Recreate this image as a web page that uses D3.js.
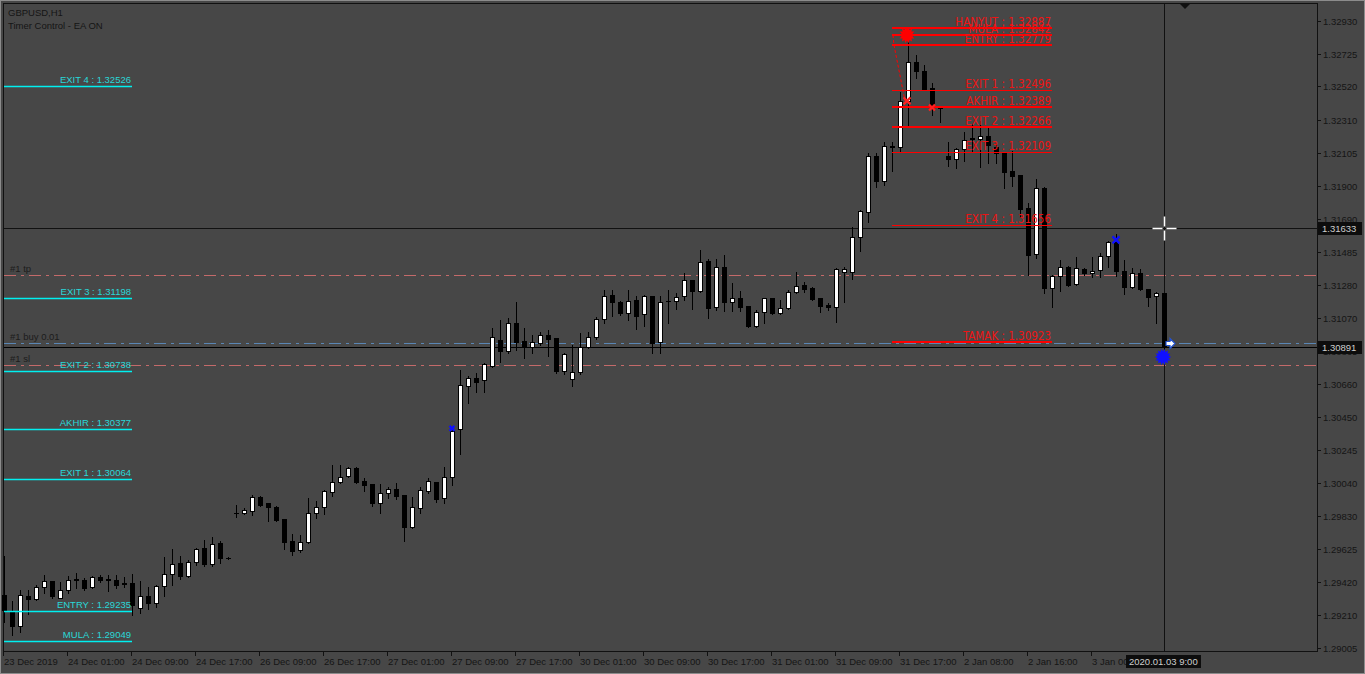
<!DOCTYPE html>
<html>
<head>
<meta charset="utf-8">
<script src="https://cdn.jsdelivr.net/npm/d3@7/dist/d3.min.js"></script>
<style>
  html, body { margin: 0; padding: 0; background: #474747; }
  svg { display: block; }
  text { font-family: "Liberation Sans", Arial, sans-serif; }
</style>
</head>
<body>
<svg id="chart"></svg>
<script>
const width = 1365;
const height = 674;

// GBPUSD H1 bars, 23 Dec 2019 .. 3 Jan 2020 09:00
const open = [
  1.29336,1.29230,1.29142,1.29330,1.29311,1.29386,1.29424,1.29317,1.29368,1.29434,
  1.29430,1.29386,1.29449,1.29436,1.29430,1.29411,1.29411,1.29255,1.29330,1.29286,
  1.29393,1.29468,1.29537,1.29455,1.29543,1.29631,1.29530,1.29662,1.29568,1.29850,
  1.29850,1.29862,1.29950,1.29912,1.29887,1.29812,1.29674,1.29618,1.29668,1.29850,
  1.29887,1.29981,1.30044,1.30081,1.30131,1.30050,1.30031,1.29912,1.29975,1.30000,
  1.29962,1.29762,1.29881,1.29987,1.30044,1.29944,1.30075,1.30375,1.30645,1.30695,
  1.30682,1.30770,1.30933,1.30864,1.31039,1.30926,1.30889,1.30914,1.30964,1.30945,
  1.30739,1.30689,1.30732,1.30889,1.30951,1.31064,1.31214,1.31171,1.31102,1.31183,
  1.31095,1.31208,1.30920,1.31177,1.31177,1.31208,1.31308,1.31239,1.31427,1.31139,
  1.31390,1.31171,1.31196,1.31145,1.31020,1.31108,1.31196,1.31102,1.31133,1.31233,
  1.31277,1.31258,1.31196,1.31152,1.31139,1.31358,1.31358,1.31577,1.31734,1.32084,
  1.31928,1.32147,1.32141,1.32429,1.32673,1.32617,1.32510,1.32385,1.32084,1.32066,
  1.32128,1.32191,1.32191,1.32210,1.32141,1.32103,1.31990,1.31966,1.31759,1.31471,
  1.31884,1.31258,1.31333,1.31390,1.31283,1.31377,1.31352,1.31371,1.31458,1.31546,
  1.31365,1.31264,1.31352,1.31252,1.31208,1.31227
];
const high = [
  1.29580,1.29299,1.29368,1.29368,1.29399,1.29462,1.29424,1.29418,1.29455,1.29474,
  1.29443,1.29455,1.29462,1.29462,1.29462,1.29449,1.29468,1.29424,1.29386,1.29399,
  1.29574,1.29624,1.29580,1.29555,1.29631,1.29681,1.29699,1.29674,1.29572,1.29900,
  1.29881,1.29962,1.29956,1.29912,1.29893,1.29812,1.29718,1.29712,1.29944,1.29925,
  1.29994,1.30150,1.30150,1.30138,1.30138,1.30069,1.30031,1.30031,1.30012,1.30037,
  1.29962,1.29950,1.30012,1.30069,1.30044,1.30138,1.30388,1.30745,1.30707,1.30726,
  1.30789,1.31008,1.31058,1.31070,1.31171,1.31008,1.30964,1.30983,1.30995,1.30945,
  1.30851,1.30901,1.30976,1.30983,1.31077,1.31246,1.31246,1.31177,1.31246,1.31208,
  1.31214,1.31208,1.31208,1.31246,1.31227,1.31352,1.31308,1.31496,1.31440,1.31440,
  1.31465,1.31289,1.31239,1.31145,1.31120,1.31196,1.31196,1.31183,1.31246,1.31358,
  1.31296,1.31264,1.31196,1.31164,1.31383,1.31390,1.31640,1.31746,1.32103,1.32103,
  1.32172,1.32172,1.32485,1.32798,1.32717,1.32654,1.32541,1.32400,1.32172,1.32135,
  1.32235,1.32285,1.32304,1.32272,1.32166,1.32110,1.32116,1.31966,1.31790,1.31941,
  1.31890,1.31340,1.31433,1.31396,1.31452,1.31383,1.31452,1.31477,1.31552,1.31596,
  1.31433,1.31383,1.31377,1.31252,1.31233,1.31227
];
const low = [
  1.29167,1.29086,1.29105,1.29217,1.29305,1.29349,1.29317,1.29317,1.29349,1.29380,
  1.29368,1.29380,1.29418,1.29361,1.29380,1.29386,1.29211,1.29224,1.29249,1.29261,
  1.29330,1.29399,1.29436,1.29449,1.29524,1.29518,1.29518,1.29537,1.29565,1.29825,
  1.29843,1.29837,1.29893,1.29800,1.29800,1.29624,1.29587,1.29606,1.29662,1.29818,
  1.29843,1.29956,1.30037,1.30075,1.30037,1.29987,1.29893,1.29850,1.29944,1.29937,
  1.29674,1.29756,1.29850,1.29975,1.29918,1.29912,1.30025,1.30219,1.30538,1.30607,
  1.30607,1.30765,1.30795,1.30851,1.30870,1.30820,1.30851,1.30901,1.30832,1.30726,
  1.30720,1.30645,1.30720,1.30885,1.30939,1.31039,1.31083,1.31089,1.31058,1.31002,
  1.31020,1.30851,1.30851,1.31039,1.31127,1.31183,1.31127,1.31233,1.31070,1.31120,
  1.31114,1.31114,1.31114,1.31014,1.31014,1.31039,1.31095,1.31095,1.31127,1.31227,
  1.31233,1.31183,1.31108,1.31120,1.31045,1.31171,1.31315,1.31490,1.31671,1.31890,
  1.31903,1.31990,1.32110,1.32272,1.32573,1.32498,1.32341,1.32297,1.32022,1.32009,
  1.32053,1.32110,1.32016,1.32041,1.32041,1.31884,1.31897,1.31703,1.31340,1.31446,
  1.31227,1.31139,1.31239,1.31271,1.31277,1.31340,1.31327,1.31327,1.31390,1.31333,
  1.31221,1.31258,1.31246,1.31145,1.31039,1.30851
];
const close = [
  1.29242,1.29142,1.29336,1.29311,1.29386,1.29424,1.29330,1.29368,1.29430,1.29430,
  1.29380,1.29449,1.29430,1.29430,1.29399,1.29405,1.29274,1.29330,1.29286,1.29393,
  1.29468,1.29530,1.29455,1.29543,1.29624,1.29530,1.29656,1.29568,1.29568,1.29847,
  1.29868,1.29950,1.29900,1.29887,1.29806,1.29668,1.29612,1.29668,1.29850,1.29887,
  1.29987,1.30044,1.30075,1.30131,1.30044,1.30025,1.29912,1.29975,1.30000,1.29956,
  1.29762,1.29887,1.29994,1.30050,1.29937,1.30075,1.30363,1.30651,1.30695,1.30670,
  1.30782,1.30951,1.30864,1.31039,1.30920,1.30889,1.30920,1.30964,1.30939,1.30739,
  1.30845,1.30732,1.30889,1.30951,1.31064,1.31208,1.31171,1.31102,1.31177,1.31083,
  1.31208,1.30914,1.31171,1.31180,1.31202,1.31308,1.31239,1.31421,1.31133,1.31390,
  1.31171,1.31196,1.31139,1.31020,1.31108,1.31196,1.31102,1.31133,1.31233,1.31271,
  1.31252,1.31189,1.31145,1.31139,1.31377,1.31377,1.31577,1.31740,1.32084,1.31928,
  1.32147,1.32143,1.32429,1.32673,1.32617,1.32504,1.32391,1.32397,1.32066,1.32128,
  1.32185,1.32197,1.32210,1.32153,1.32103,1.31984,1.31959,1.31753,1.31465,1.31884,
  1.31258,1.31333,1.31390,1.31277,1.31383,1.31352,1.31365,1.31458,1.31546,1.31365,
  1.31264,1.31352,1.31252,1.31202,1.31227,1.30891
];

const priceTicks = [1.32930,1.32725,1.32520,1.32310,1.32105,1.31900,1.31690,1.31485,1.31280,1.31070,
  1.30865,1.30660,1.30450,1.30245,1.30040,1.29830,1.29625,1.29420,1.29210,1.29005];
const timeLabels = ['23 Dec 2019','24 Dec 01:00','24 Dec 09:00','24 Dec 17:00','26 Dec 09:00','26 Dec 17:00',
  '27 Dec 01:00','27 Dec 09:00','27 Dec 17:00','30 Dec 01:00','30 Dec 09:00','30 Dec 17:00',
  '31 Dec 01:00','31 Dec 09:00','31 Dec 17:00','2 Jan 08:00','2 Jan 16:00','3 Jan 00:00'];

// EA levels
const cyanNames = ['EXIT 4','EXIT 3','EXIT 2','AKHIR','EXIT 1','ENTRY','MULA'];
const cyanValues = [1.32526,1.31198,1.30738,1.30377,1.30064,1.29235,1.29049];
const redNames = ['HANYUT','MULA','ENTRY','EXIT 1','AKHIR','EXIT 2','EXIT 3','EXIT 4','TAMAK'];
const redValues = [1.32887,1.32842,1.32779,1.32496,1.32389,1.32266,1.32109,1.31656,1.30923];
const redWidths = [2,2,2,1,2,2,1,1,2];

// order lines
const orderNames = ['#1 tp','#1 buy 0.01','#1 sl'];
const orderValues = [1.31340,1.30914,1.30777];
const orderColors = ['#c46a6a','#5a86b4','#c46a6a'];

const bidPrice = 1.30891;
const crossPrice = 1.31633;
const crossBar = 145;

const bg = '#474747';
const L = 3, R = 1317, T = 3, B = 651;

const svg = d3.select('#chart').attr('width', width).attr('height', height);
svg.append('rect').attr('width', width).attr('height', height).attr('fill', bg);

const x = d3.scaleLinear().domain([0, 145]).range([4, 1164]);
const y = d3.scaleLinear().domain([1.29005, 1.32930]).range([648, 21]);
const py = v => Math.round(y(v));

// frame
svg.append('rect').attr('x', 0.5).attr('y', 0.5).attr('width', width - 1).attr('height', height - 1)
  .attr('fill', 'none').attr('stroke', '#8c8c8c');
svg.append('rect').attr('x', L + 0.5).attr('y', T + 0.5).attr('width', R - L).attr('height', B - T)
  .attr('fill', 'none').attr('stroke', '#111');

// order lines (dash-dot)
orderValues.forEach((v, k) => {
  svg.append('line')
    .attr('x1', L + 1).attr('x2', R).attr('y1', py(v) + 0.5).attr('y2', py(v) + 0.5)
    .attr('stroke', orderColors[k]).attr('stroke-dasharray', '12,5,3,5');
  svg.append('text').attr('x', 10).attr('y', py(v) - 3)
    .attr('font-size', 9.5).attr('fill', '#1c1c1c').text(orderNames[k]);
});

// bid line + crosshair lines
svg.append('line').attr('x1', L + 1).attr('x2', R).attr('y1', py(bidPrice) + 0.5).attr('y2', py(bidPrice) + 0.5)
  .attr('stroke', '#000');
svg.append('line').attr('x1', L + 1).attr('x2', R).attr('y1', py(crossPrice) + 0.5).attr('y2', py(crossPrice) + 0.5)
  .attr('stroke', '#111');
svg.append('line').attr('x1', x(crossBar) + 0.5).attr('x2', x(crossBar) + 0.5).attr('y1', T).attr('y2', B)
  .attr('stroke', '#111');

// candles
const bars = d3.range(open.length);
const g = svg.append('g');
g.selectAll('.wick').data(bars).enter().append('line')
  .attr('x1', i => x(i) + 0.5).attr('x2', i => x(i) + 0.5)
  .attr('y1', i => py(high[i])).attr('y2', i => py(low[i]) + 1)
  .attr('stroke', '#000');
g.selectAll('.body').data(bars).enter().append('rect')
  .attr('x', i => x(i) - 1.5)
  .attr('y', i => py(Math.max(open[i], close[i])) + 0.5)
  .attr('width', 4)
  .attr('height', i => Math.max(0.01, py(Math.min(open[i], close[i])) - py(Math.max(open[i], close[i]))))
  .attr('fill', i => close[i] > open[i] ? '#fff' : '#000')
  .attr('stroke', '#000');

// cyan level lines on the left
cyanValues.forEach((v, k) => {
  svg.append('line').attr('x1', x(0)).attr('x2', x(16)).attr('y1', py(v) + 0.5).attr('y2', py(v) + 0.5)
    .attr('stroke', '#00f0f0').attr('stroke-width', 1.3);
  svg.append('text').attr('x', x(16) - 1).attr('y', py(v) - 3).attr('text-anchor', 'end')
    .attr('font-size', 9.5).attr('fill', '#2ad8d8').text(cyanNames[k] + ' : ' + v.toFixed(5));
});

// red level lines
redValues.forEach((v, k) => {
  svg.append('line').attr('x1', x(111)).attr('x2', x(131)).attr('y1', py(v) + (redWidths[k] === 1 ? 0.5 : 0))
    .attr('y2', py(v) + (redWidths[k] === 1 ? 0.5 : 0))
    .attr('stroke', '#ff0000').attr('stroke-width', redWidths[k]);
  svg.append('text').attr('x', x(131) - 1).attr('y', py(v) - 2).attr('text-anchor', 'end')
    .style('font-family', '"Liberation Sans Narrow", "DejaVu Sans Condensed", sans-serif')
    .attr('font-size', 11.5).attr('fill', '#ee1414').text(redNames[k] + ' : ' + v.toFixed(5));
});

// markers
function sun(cx, cy, col) {
  const pts = d3.range(28).map(k => {
    const a = k * Math.PI / 14, r = k % 2 ? 5.6 : 8.2;
    return [cx + r * Math.cos(a), cy + r * Math.sin(a)];
  });
  svg.append('polygon').attr('points', pts.map(p => p.join(',')).join(' ')).attr('fill', col);
}
function cross(cx, cy, s, col) {
  svg.append('path').attr('d', `M${cx - s},${cy - s}L${cx + s},${cy + s}M${cx - s},${cy + s}L${cx + s},${cy - s}`)
    .attr('stroke', col).attr('stroke-width', 2.2);
}
svg.append('path')
  .attr('d', `M${x(111) + 1},${y(1.32842)}L${x(111) + 2},${y(1.32779)}L${x(113) - 3},${y(1.32430)}`)
  .attr('fill', 'none').attr('stroke', '#ff0000').attr('stroke-dasharray', '3,2');
sun(x(113) - 1, y(1.32842), '#ff0000');
cross(x(113) - 1, y(1.32430), 3.5, '#ff2020');
cross(x(116), y(1.32389), 3, '#ff2020');
cross(x(56), y(1.30380), 2.5, '#1010ff');
cross(x(139), y(1.31560), 3.5, '#1010ff');
sun(x(145) - 1, y(1.30827), '#1010ff');
const ax = x(145) + 6, ay = py(1.30914) + 0.5;
svg.append('path')
  .attr('d', `M${ax - 4},${ay - 2}L${ax},${ay - 2}L${ax},${ay - 5}L${ax + 5},${ay}L${ax},${ay + 5}L${ax},${ay + 2}L${ax - 4},${ay + 2}Z`)
  .attr('fill', '#fff').attr('stroke', '#2050d0').attr('stroke-width', 1.2);

// crosshair white cursor
const cx0 = x(crossBar) + 0.5, cy0 = py(crossPrice) + 0.5;
svg.append('path').attr('d', `M${cx0 - 12},${cy0}H${cx0 - 2}M${cx0 + 2},${cy0}H${cx0 + 12}M${cx0},${cy0 - 12}V${cy0 - 2}M${cx0},${cy0 + 2}V${cy0 + 12}`)
  .attr('stroke', '#fff').attr('stroke-width', 1.5);

// shift marker at top
svg.append('path').attr('d', 'M1180,4L1190,4L1185,9Z').attr('fill', '#111');

// price axis
svg.append('line').attr('x1', R + 0.5).attr('x2', R + 0.5).attr('y1', T).attr('y2', B + 1).attr('stroke', '#111');
priceTicks.forEach(v => {
  svg.append('line').attr('x1', R).attr('x2', R + 4).attr('y1', py(v) + 0.5).attr('y2', py(v) + 0.5).attr('stroke', '#111');
  svg.append('text').attr('x', R + 6).attr('y', py(v) + 4).attr('font-size', 9.5).attr('fill', '#151515')
    .text(v.toFixed(5));
});
[crossPrice, bidPrice].forEach(v => {
  svg.append('rect').attr('x', R + 1).attr('y', py(v) - 6).attr('width', 44).attr('height', 13).attr('fill', '#0d0d0d');
  svg.append('text').attr('x', R + 5).attr('y', py(v) + 4).attr('font-size', 9.5).attr('fill', '#cfcfcf')
    .text(v.toFixed(5));
});

// time axis
timeLabels.forEach((t, k) => {
  const tx = x(k * 8) - 1;
  svg.append('line').attr('x1', tx + 0.5).attr('x2', tx + 0.5).attr('y1', B).attr('y2', B + 5).attr('stroke', '#111');
  svg.append('text').attr('x', tx + 1).attr('y', B + 14).attr('font-size', 9.5).attr('fill', '#151515').text(t);
});
svg.append('rect').attr('x', x(crossBar) - 38).attr('y', B + 4).attr('width', 75).attr('height', 13).attr('fill', '#0d0d0d');
svg.append('text').attr('x', x(crossBar) - 35).attr('y', B + 14).attr('font-size', 9.5).attr('fill', '#cfcfcf')
  .text('2020.01.03 9:00');

// header
svg.append('text').attr('x', 8).attr('y', 16).attr('font-size', 9.5).attr('fill', '#151515').text('GBPUSD,H1');
svg.append('text').attr('x', 8).attr('y', 29).attr('font-size', 9.5).attr('fill', '#151515').text('Timer Control - EA ON');
</script>
</body>
</html>
